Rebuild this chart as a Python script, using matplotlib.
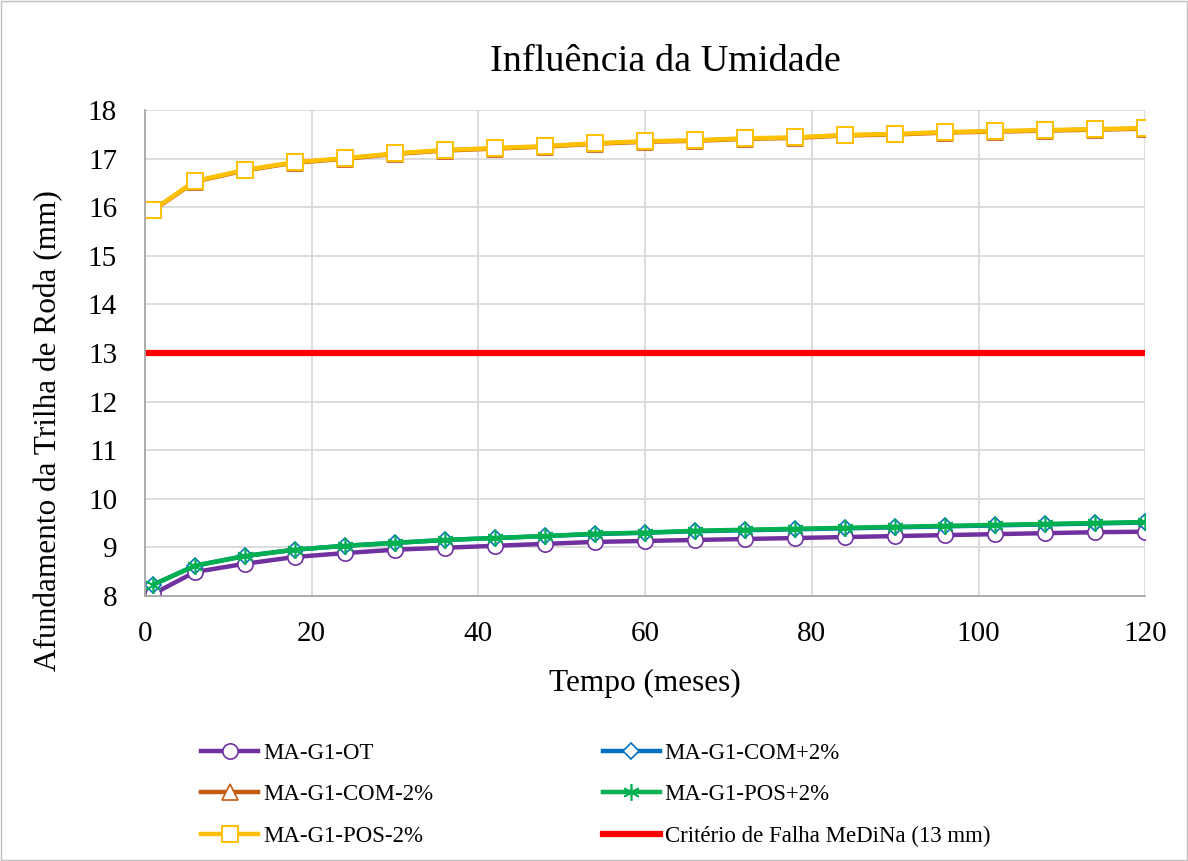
import matplotlib.pyplot as plt
from matplotlib.patches import Rectangle

plt.rcParams['font.family'] = ['Liberation Serif', 'DejaVu Serif']

tempo = [1, 6, 12, 18, 24, 30, 36, 42, 48, 54, 60, 66, 72, 78, 84, 90, 96, 102, 108, 114, 120]

ot = [8.04, 8.49, 8.66, 8.80, 8.88, 8.95, 8.99, 9.03, 9.07, 9.11, 9.13,
      9.15, 9.17, 9.19, 9.21, 9.23, 9.25, 9.27, 9.29, 9.31, 9.32]
com_mais = [8.23, 8.62, 8.82, 8.95, 9.03, 9.09, 9.15, 9.19, 9.23, 9.27, 9.30,
            9.33, 9.35, 9.37, 9.39, 9.41, 9.43, 9.45, 9.47, 9.49, 9.51]
com_menos = [15.94, 16.53, 16.76, 16.92, 17.00, 17.10, 17.17, 17.21, 17.25, 17.31, 17.35,
             17.37, 17.41, 17.43, 17.48, 17.50, 17.54, 17.56, 17.58, 17.60, 17.62]
pos_mais = [8.23, 8.62, 8.82, 8.95, 9.03, 9.09, 9.15, 9.19, 9.23, 9.28, 9.30,
            9.34, 9.36, 9.38, 9.40, 9.42, 9.44, 9.46, 9.48, 9.50, 9.52]
pos_menos = [15.95, 16.54, 16.77, 16.93, 17.01, 17.11, 17.18, 17.22, 17.26, 17.32, 17.36,
             17.38, 17.42, 17.44, 17.49, 17.51, 17.55, 17.57, 17.59, 17.61, 17.63]
criterio = 13
x_lim = [0, 120]

fig = plt.figure(figsize=(11.88, 8.61), dpi=100)
ax = fig.add_axes([0.122, 0.308, 0.842, 0.564])

ms = 11
ax.plot(tempo, ot, color='#7030A0', lw=3.2, marker='o', ms=ms, mfc='white',
        mec='#7030A0', mew=1.2, label='MA-G1-OT')
ax.plot(tempo, com_mais, color='#0070C0', lw=3.2, marker='D', ms=ms - 3, mfc='white',
        mec='#0070C0', mew=1.2, label='MA-G1-COM+2%')
ax.plot(tempo, com_menos, color='#C55A11', lw=3.2, marker='^', ms=ms, mfc='white',
        mec='#C55A11', mew=1.2, label='MA-G1-COM-2%')
ax.plot(tempo, pos_mais, color='#00B050', lw=3.2, marker=(6, 2, 0), ms=ms + 1,
        mec='#00B050', mew=1.2, label='MA-G1-POS+2%')
ax.plot(tempo, pos_menos, color='#FFC000', lw=3.2, marker='s', ms=ms + 1, mfc='white',
        mec='#FFC000', mew=1.4, label='MA-G1-POS-2%')
ax.plot(x_lim, [criterio, criterio], color='#FF0000', lw=4.5,
        label='Critério de Falha MeDiNa (13 mm)')

ax.set_xlim(0, 120)
ax.set_ylim(8, 18)
ax.set_xticks(range(0, 121, 20))
ax.set_yticks(range(8, 19))
ax.grid(True, color='#D9D9D9', lw=1.3)
ax.set_axisbelow(True)
ax.tick_params(length=0, labelsize=21)
ax.tick_params(axis='x', pad=18)
ax.tick_params(axis='y', pad=20)
for s in ['top', 'right']:
    ax.spines[s].set_visible(False)
for s in ['left', 'bottom']:
    ax.spines[s].set_color('#A6A6A6')
    ax.spines[s].set_linewidth(1.3)

ax.set_title('Influência da Umidade', fontsize=27.5, pad=28, x=0.52)
ax.set_xlabel('Tempo (meses)', fontsize=22.5, labelpad=16)
ax.set_ylabel('Afundamento da Trilha de Roda (mm)', fontsize=22.5)
ax.yaxis.set_label_coords(-0.082, 0.34)

handles, labels = ax.get_legend_handles_labels()
order = [0, 2, 4, 1, 3, 5]
fig.legend([handles[i] for i in order], [labels[i] for i in order],
           loc='lower left', bbox_to_anchor=(0.152, -0.008), ncol=2, frameon=False,
           fontsize=16.5, handlelength=2.5, columnspacing=7.4, labelspacing=0.9,
           handletextpad=0.2)

fig.patches.append(Rectangle((0.001, 0.001), 0.998, 0.998, transform=fig.transFigure,
                             fill=False, edgecolor='#BFBFBF', lw=1))

fig.savefig('out.png', dpi=100)
